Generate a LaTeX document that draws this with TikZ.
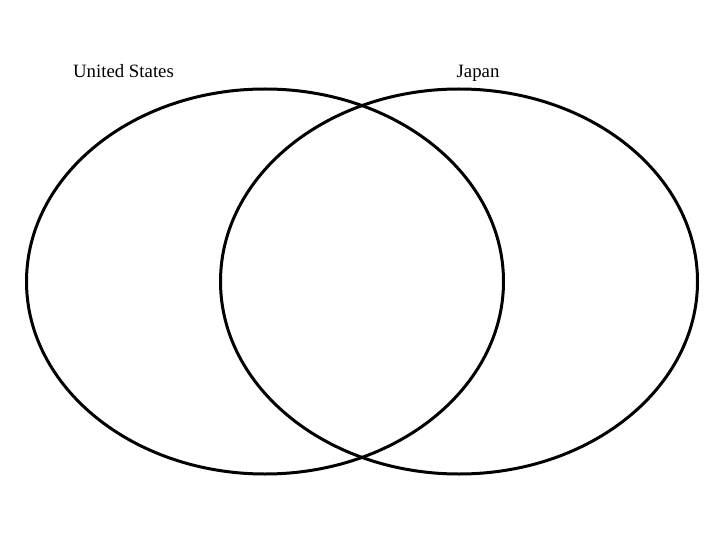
\documentclass[tikz,border=0pt]{standalone}
\usepackage{fontspec}
\setmainfont{Liberation Serif}
\begin{document}
\begin{tikzpicture}[
  x=1pt, y=-1pt,
  vset/.style={line width=3pt, draw=black},
  vlabel/.style={font=\fontsize{18.8}{22}\selectfont, inner sep=0pt, anchor=base}
]
  \useasboundingbox (0,0) rectangle (720,540);

  % Conjuntos
  \coordinate (cUS) at (265,281.5);
  \coordinate (cJP) at (459,281.5);
  \draw[vset] (cUS) ellipse [x radius=238.5, y radius=192.5];
  \draw[vset] (cJP) ellipse [x radius=238.5, y radius=192.5];

  % Etiquetas
  \node[vlabel] (us) at (123.5,77.5) {United States};
  \node[vlabel] (jp) at (478,77.5) {Japan};
\end{tikzpicture}
\end{document}
